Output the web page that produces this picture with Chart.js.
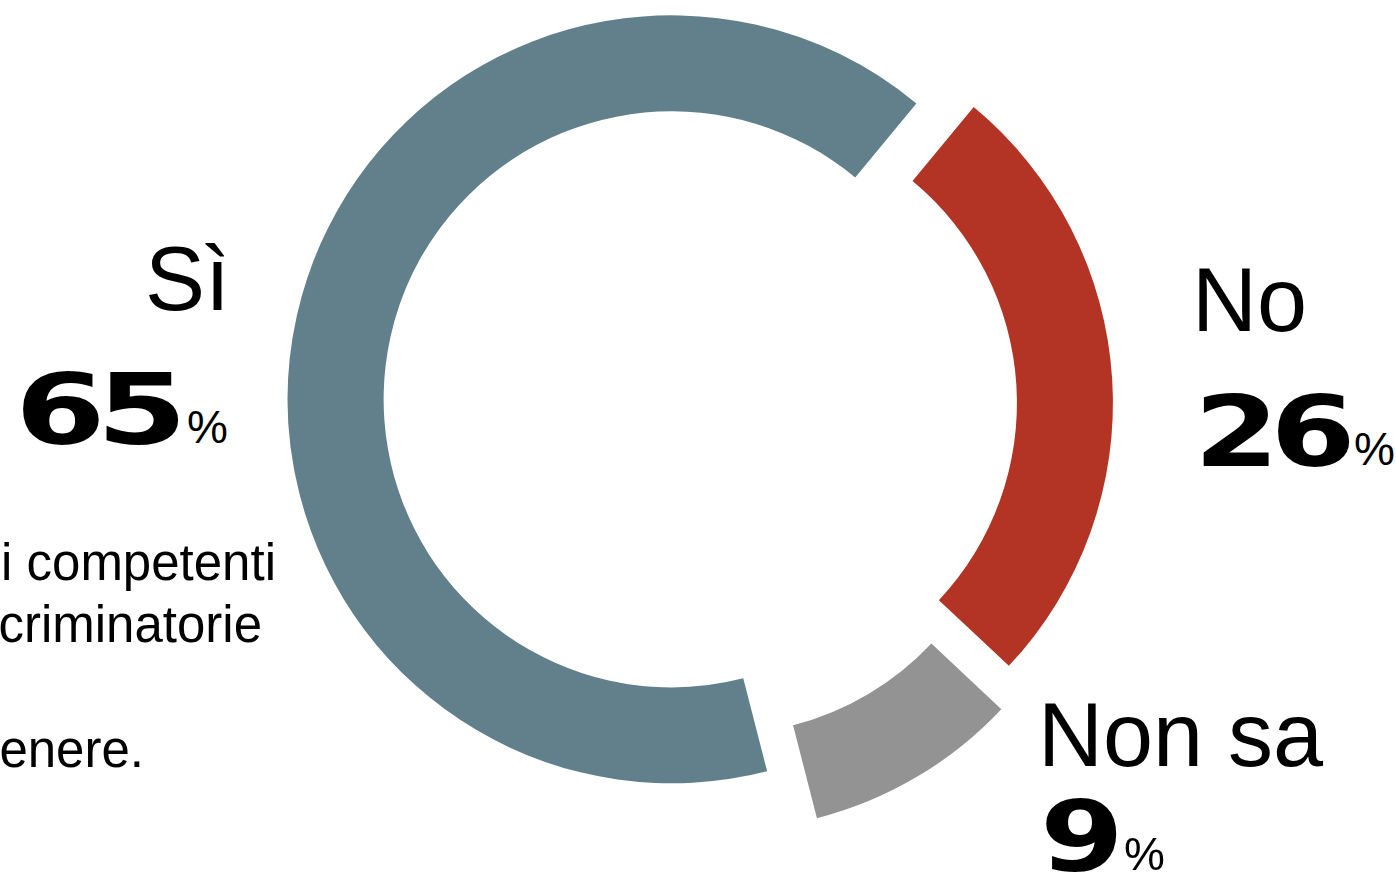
<!DOCTYPE html>
<html lang="it">
<head>
  <meta charset="UTF-8">
  <title>Sì / No / Non sa</title>
  <script src="https://cdn.jsdelivr.net/npm/chart.js"></script>
  <style>
    html, body { margin: 0; padding: 0; background: #fff; }
    body { width: 1396px; height: 873px; overflow: hidden; position: relative; font-family: "Liberation Sans", Arial, sans-serif; color: #000; }
    .wrap { position: absolute; left: 267.3px; top: -25px; width: 860px; height: 860px; }
    .lbl { position: absolute; font-size: 90px; line-height: 90px; white-space: nowrap; }
    .num { position: absolute; font-family: "DejaVu Sans", sans-serif; font-weight: bold; font-size: 98px; line-height: 98px; white-space: nowrap; transform-origin: 0 0; letter-spacing: -7px; }
    .pct { position: absolute; font-size: 46px; line-height: 46px; white-space: nowrap; }
    .txt { position: absolute; font-size: 51px; line-height: 51px; white-space: nowrap; text-align: right; }
  </style>
</head>
<body>
  <div class="wrap"><canvas id="chart"></canvas></div>
  <div id="labels"></div>

  <script>
    // dati
    const categorie = ['Sì', 'No', 'Non sa'];
    const valori = [65, 26, 9];
    const colori = ['#61808b', '#b33424', '#939393'];

    // testo del paragrafo (tagliato a sinistra come nell'originale)
    const righeTesto = ['organi competenti', 'discriminatorie', 'di genere.'];

    // distacco di ogni spicchio dal centro (px)
    const distacco = [26, 32, 48];

    const esplodi = {
      id: 'esplodi',
      beforeDatasetsDraw(chart) {
        const area = chart.chartArea;
        const cx = (area.left + area.right) / 2;
        const cy = (area.top + area.bottom) / 2;
        chart.getDatasetMeta(0).data.forEach((arc, i) => {
          const mid = (arc.startAngle + arc.endAngle) / 2;
          arc.x = cx + distacco[i] * Math.cos(mid);
          arc.y = cy + distacco[i] * Math.sin(mid);
        });
      }
    };

    new Chart(document.getElementById('chart'), {
      type: 'doughnut',
      data: {
        labels: categorie,
        datasets: [{
          data: valori,
          backgroundColor: colori,
          borderWidth: 0,
          hoverOffset: 0
        }]
      },
      options: {
        responsive: true,
        maintainAspectRatio: false,
        animation: false,
        rotation: 165.6,
        radius: 384,
        cutout: '75%',
        layout: { padding: 0 },
        events: [],
        plugins: { legend: { display: false }, tooltip: { enabled: false } }
      },
      plugins: [esplodi]
    });

    // etichette: posizioni (baseline) a mano
    const pos = [
      { lbl: { right: 1166, base: 310 }, num: { left: 15, base: 444, sx: 1.33 }, pct: { left: 187, base: 443 } },
      { lbl: { left: 1192, base: 331 }, num: { left: 1194, base: 466, sx: 1.25 }, pct: { left: 1354, base: 465 } },
      { lbl: { left: 1038, base: 766 }, num: { left: 1040, base: 871, sx: 1.23 }, pct: { left: 1124, base: 870 } }
    ];

    const box = document.getElementById('labels');
    categorie.forEach((c, i) => {
      const p = pos[i];
      const l = document.createElement('div');
      l.className = 'lbl';
      l.textContent = c;
      l.style.top = Math.round(p.lbl.base - 90 * 0.8465) + 'px';
      if (p.lbl.right !== undefined) l.style.right = p.lbl.right + 'px';
      else l.style.left = p.lbl.left + 'px';
      box.appendChild(l);

      const n = document.createElement('div');
      n.className = 'num';
      n.textContent = valori[i];
      n.style.left = p.num.left + 'px';
      n.style.top = Math.round(p.num.base - 98 * 0.846) + 'px';
      n.style.transform = 'scaleX(' + p.num.sx + ')';
      box.appendChild(n);

      const q = document.createElement('div');
      q.className = 'pct';
      q.textContent = '%';
      q.style.left = p.pct.left + 'px';
      q.style.top = Math.round(p.pct.base - 46 * 0.8465) + 'px';
      box.appendChild(q);
    });

    const fini = [
      { right: 1396 - 276, base: 580 },
      { right: 1396 - 262, base: 642 },
      { right: 1396 - 144, base: 767 }
    ];
    righeTesto.forEach((t, i) => {
      const d = document.createElement('div');
      d.className = 'txt';
      d.textContent = t;
      d.style.right = fini[i].right + 'px';
      d.style.top = Math.round(fini[i].base - 51 * 0.8465) + 'px';
      box.appendChild(d);
    });
  </script>
</body>
</html>
